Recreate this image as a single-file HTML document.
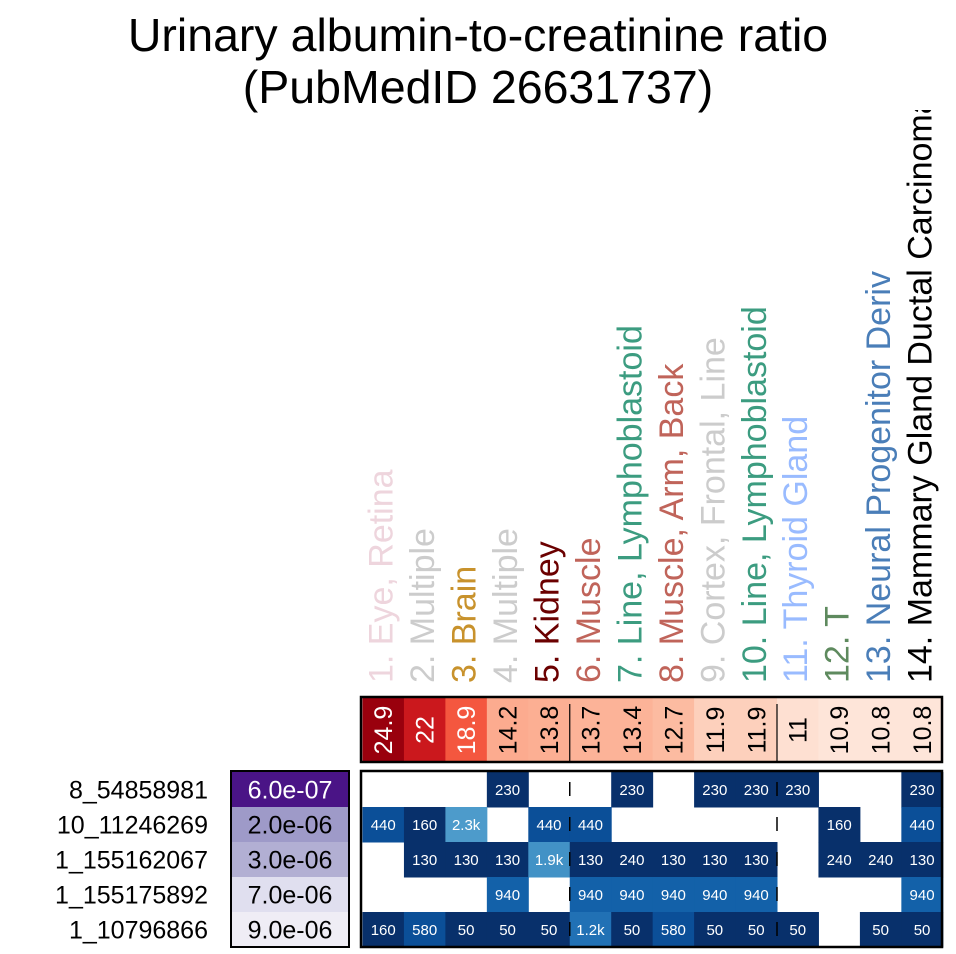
<!DOCTYPE html>
<html><head><meta charset="utf-8">
<style>body{margin:0;background:#fff}svg{display:block;font-family:"Liberation Sans",Arial,sans-serif}</style>
</head><body>
<svg id="c" width="956" height="954" viewBox="0 0 956 954" xmlns="http://www.w3.org/2000/svg">
<defs><clipPath id="lc"><rect x="0" y="110" width="956" height="600"/></clipPath></defs>
<text x="478" y="51" font-size="46.5" text-anchor="middle">Urinary albumin-to-creatinine ratio</text>
<text x="478" y="103" font-size="46.5" text-anchor="middle">(PubMedID 26631737)</text>
<g id="lab" clip-path="url(#lc)"></g>
<g id="g"></g>
</svg>
<script>
const tissues=["1. Eye, Retina","2. Multiple","3. Brain","4. Multiple","5. Kidney","6. Muscle","7. Line, Lymphoblastoid","8. Muscle, Arm, Back","9. Cortex, Frontal, Line","10. Line, Lymphoblastoid","11. Thyroid Gland","12. T","13. Neural Progenitor Deriv","14. Mammary Gland Ductal Carcinoma"];
const tissueColors=["#eed5dd","#cccccc","#c8922c","#cccccc","#6b0000","#c0645a","#3c9c80","#c0645a","#cccccc","#3c9c80","#99bbff","#5e8a5e","#4a7eb8","#000000"];
const enrich=[24.9,22,18.9,14.2,13.8,13.7,13.4,12.7,11.9,11.9,11,10.9,10.8,10.8];
const enrichLabels=["24.9","22","18.9","14.2","13.8","13.7","13.4","12.7","11.9","11.9","11","10.9","10.8","10.8"];
const snps=["8_54858981","10_11246269","1_155162067","1_155175892","1_10796866"];
const pvals=["6.0e-07","2.0e-06","3.0e-06","7.0e-06","9.0e-06"];
const pColors=["#4a1486","#9e9ac8","#b2afd3","#e0dfef","#efedf5"];
const cells=[
[null,null,null,230,null,null,230,null,230,230,230,null,null,230],
[440,160,2300,null,440,440,null,null,null,null,null,160,null,440],
[null,130,130,130,1900,130,240,130,130,130,null,240,240,130],
[null,null,null,940,null,940,940,940,940,940,null,null,null,940],
[160,580,50,50,50,1200,50,580,50,50,50,null,50,50]];
const NS="http://www.w3.org/2000/svg";
const g=document.getElementById('g');
const lab=document.getElementById('lab');
function mk(t,a,txt,p){const e=document.createElementNS(NS,t);for(const k in a)e.setAttribute(k,a[k]);if(txt!=null)e.textContent=txt;(p||g).appendChild(e);return e;}
const X0=362.5,CW=41.45,Y0=772,RH=35;
const cx=i=>X0+CW*i, ry=j=>Y0+RH*j;
function fmt(v){return v>=1000?(v/1000).toFixed(1)+"k":String(v);}
function blue(v){if(v>=2000)return"#4d9bcb";if(v>=1500)return"#4292c6";if(v>=1000)return"#2171b5";if(v>=900)return"#1361a9";if(v>=400)return"#0b4f98";return"#08306b";}
function red(v){const s=[[10.8,"#fee5d9"],[11,"#fee0d2"],[11.9,"#fdd0bc"],[12.7,"#fcbba1"],[13.4,"#fcb398"],[13.8,"#fcaf93"],[14.2,"#fcab8f"],[18.9,"#f4573f"],[22,"#cb181d"],[24.9,"#99000d"]];let c=s[0][1];for(const [t,col] of s)if(v>=t-0.01)c=col;return c;}
tissues.forEach((t,i)=>{const x=cx(i)+CW/2+9.5,y=683;
const e=mk('text',{x:x,y:y,'font-size':34,fill:tissueColors[i],transform:`rotate(-90 ${x} ${y})`},t,lab);

});
enrich.forEach((v,i)=>{const r=mk('rect',{x:cx(i),y:698,width:CW+0.5,height:64,fill:red(v)});


const x=cx(i)+CW/2+9,y=730;
const t=mk('text',{x:x,y:y,'font-size':25,'text-anchor':'middle',fill:v>=18?"#fff":"#000",transform:`rotate(-90 ${x} ${y})`},enrichLabels[i]);

});
let b=mk('rect',{x:361,y:697,width:581,height:65,fill:'none',stroke:'#000','stroke-width':2.5});


cells.forEach((row,j)=>row.forEach((v,i)=>{if(v==null)return;
const r=mk('rect',{x:cx(i),y:ry(j),width:CW+0.5,height:RH+0.5,fill:blue(v)});


const t=mk('text',{x:cx(i)+CW/2,y:ry(j)+RH/2+5.5,'font-size':15,'text-anchor':'middle',fill:'#fff'},fmt(v));

}));
[5,10].forEach(k=>{const l=mk('line',{x1:cx(k),x2:cx(k),y1:704,y2:762,stroke:'#000','stroke-width':1.2});


const l2=mk('line',{x1:cx(k),x2:cx(k),y1:772,y2:946,stroke:'#000','stroke-width':1.5,'stroke-dasharray':'14 21','stroke-dashoffset':'-10'});

});
b=mk('rect',{x:361,y:771,width:581,height:176,fill:'none',stroke:'#000','stroke-width':2.5});


snps.forEach((s,j)=>{const t=mk('text',{x:208,y:ry(j)+RH/2+9,'font-size':25,'text-anchor':'end'},s);


const r=mk('rect',{x:232,y:ry(j),width:116,height:RH,fill:pColors[j]});


const p=mk('text',{x:290,y:ry(j)+RH/2+9,'font-size':25,'text-anchor':'middle',fill:j==0?'#fff':'#000'},pvals[j]);

});
b=mk('rect',{x:231,y:771,width:118,height:176,fill:'none',stroke:'#000','stroke-width':2});


</script>
</body></html>
